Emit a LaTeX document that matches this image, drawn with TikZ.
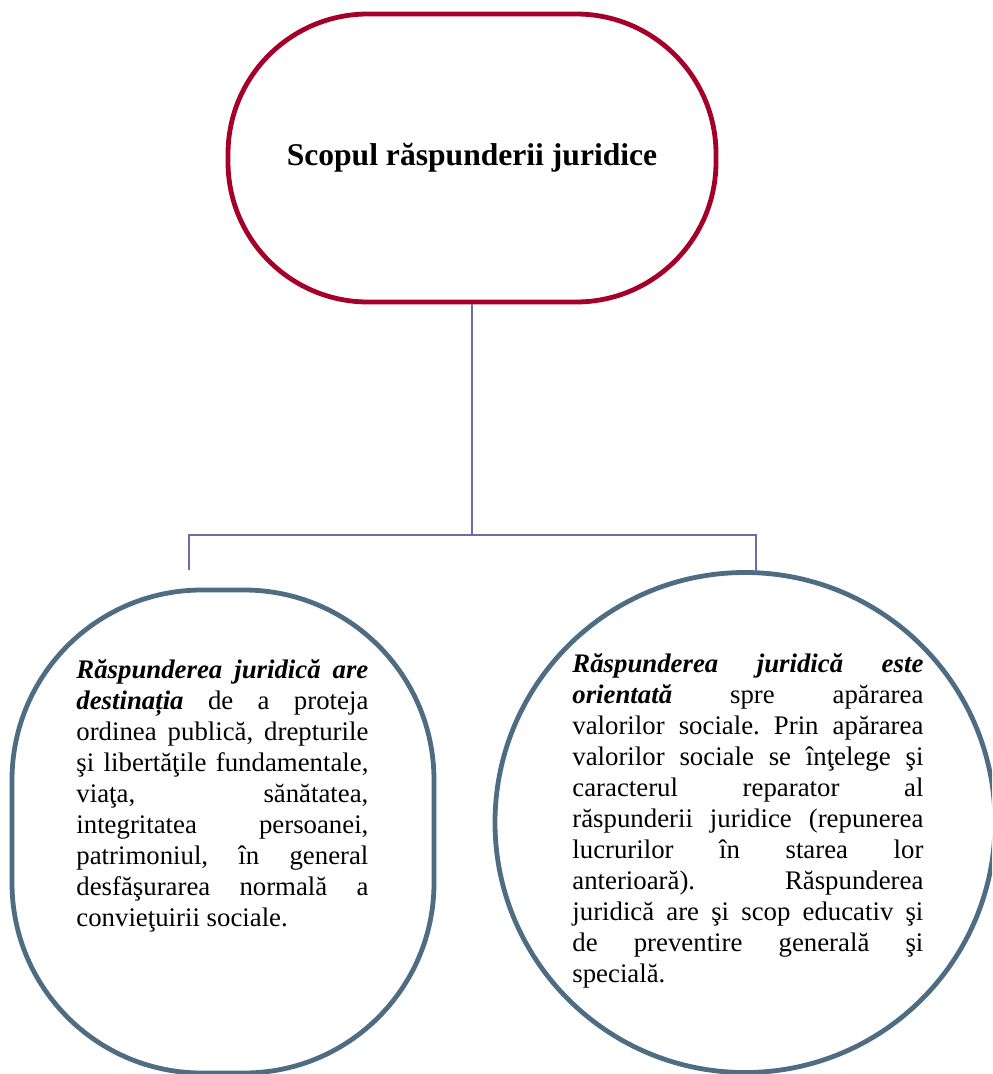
\documentclass[tikz,border=0pt]{standalone}
\usepackage{fontspec}
\setmainfont{Liberation Serif}
\definecolor{scopred}{HTML}{A5002A}
\definecolor{aimblue}{HTML}{4E6D83}
\definecolor{linkviolet}{HTML}{6E6BAA}
\tikzset{
  goal/.style={draw=scopred, line width=2.4pt, rounded corners=70pt, minimum width=244pt, minimum height=144pt, font=\fontsize{15.8}{18}\selectfont\bfseries},
  aim/.style={draw=aimblue, line width=2.4pt},
  body/.style={inner sep=0pt, anchor=base west, align=justify, font=\fontsize{13.4}{15.5}\selectfont\frenchspacing},
  link/.style={draw=linkviolet, line width=0.8pt}
}
\hbadness=10000

\begin{document}
\begin{tikzpicture}[x=0.5pt, y=-0.5pt]
        \useasboundingbox (0,0) rectangle (992,1074);
        \clip (0,0) rectangle (992,1074);

        \node[goal] (scop) at (472,158) {Scopul răspunderii juridice};

        \node[aim, rectangle, rounded corners=95pt, minimum width=211pt, minimum height=241.5pt] (dest) at (223,831.5) {};
        \node[aim, circle, minimum size=250pt] (orient) at (745,822.5) {};

        \node[body, text width=146pt] (desttext) at (76,678) {{\bfseries\itshape Răspunderea juridică are\linebreak destinația} de a proteja\linebreak ordinea publică, drepturile\linebreak şi libertăţile fundamentale,\linebreak viaţa, sănătatea,\linebreak integritatea persoanei,\linebreak patrimoniul, în general\linebreak desfăşurarea normală a\linebreak convieţuirii sociale.};
        \node[body, text width=175.5pt] (orienttext) at (572,672) {{\bfseries\itshape Răspunderea juridică este\linebreak orientată} spre apărarea\linebreak valorilor sociale. Prin apărarea\linebreak valorilor sociale se înţelege şi\linebreak caracterul reparator al\linebreak răspunderii juridice (repunerea\linebreak lucrurilor în starea lor\linebreak anterioară). Răspunderea\linebreak juridică are şi scop educativ şi\linebreak de preventire generală şi\linebreak specială.};

        \coordinate (fork) at (472,535);
        \coordinate (lend) at (189,570);
        \coordinate (rend) at (756,572);

        \draw[link] (scop.south) -- (fork);
        \draw[link] (lend) -- (lend |- fork) -- (rend |- fork) -- (rend);
\end{tikzpicture}
\end{document}
